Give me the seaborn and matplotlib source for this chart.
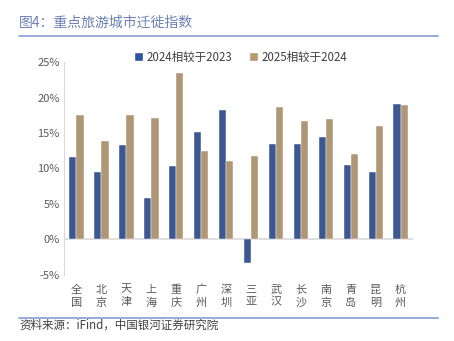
import matplotlib
matplotlib.use("Agg")
import matplotlib.pyplot as plt
import seaborn as sns
import pandas as pd
from matplotlib.patches import Patch
from matplotlib.lines import Line2D

cities = ["全国", "北京", "天津", "上海", "重庆", "广州", "深圳", "三亚",
          "武汉", "长沙", "南京", "青岛", "昆明", "杭州"]
series_2024 = [11.6, 9.5, 13.3, 5.8, 10.3, 15.2, 18.3, -3.4,
               13.5, 13.4, 14.4, 10.5, 9.5, 19.1]
series_2025 = [17.5, 13.9, 17.5, 17.1, 23.4, 12.4, 11.0, 11.8,
               18.6, 16.7, 17.0, 12.1, 16.0, 19.0]
series_names = ["2024相较于2023", "2025相较于2024"]
y_ticks = [-5, 0, 5, 10, 15, 20, 25]

sns.set_theme(style="white")
plt.rcParams['font.family'] = ['Noto Sans CJK SC', 'DejaVu Sans']

df = pd.DataFrame({
    "city": cities * 2,
    "value": series_2024 + series_2025,
    "series": [series_names[0]] * len(cities) + [series_names[1]] * len(cities),
})

blue = "#2D53A2"
gold = "#B9986C"

fig = plt.figure(figsize=(4.54, 3.41), dpi=100)
ax = fig.add_axes([0.141, 0.194, 0.769, 0.624])
sns.barplot(data=df, x="city", y="value", hue="series", hue_order=series_names,
            palette=[blue, gold], width=0.58, ax=ax, legend=False,
            edgecolor="white", linewidth=0.3)

ax.set_ylim(-5, 25)
ax.set_xlim(-0.5, len(cities) - 0.5)
ax.set_yticks(y_ticks)
ax.set_yticklabels([f"{t}%" for t in y_ticks], fontsize=8, color="#595959")
ax.set_xticks(range(len(cities)))
ax.set_xticklabels(["\n".join(c) for c in cities], fontsize=8, color="#595959",
                   linespacing=1.35)
ax.tick_params(axis="both", length=0, pad=3)
ax.tick_params(axis="x", pad=7)
ax.set_xlabel("")
ax.set_ylabel("")
for s in ["top", "right", "bottom"]:
    ax.spines[s].set_visible(False)
ax.spines["left"].set_color("#D9D9D9")
ax.spines["left"].set_linewidth(0.8)
ax.axhline(0, color="#D9D9D9", linewidth=1.2, zorder=0)

handles = [Patch(facecolor=blue), Patch(facecolor=gold)]
fig.legend(handles, series_names, loc="center", bbox_to_anchor=(0.53, 0.833),
           ncol=2, frameon=False, fontsize=8.3, handlelength=0.8, handleheight=0.8,
           handletextpad=0.3, columnspacing=1.4, labelcolor="#404040")

fig.text(0.042, 0.932, "图4：重点旅游城市迁徙指数", fontsize=10, color="#6B80B5",
         ha="left", va="center")
fig.add_artist(Line2D([0.042, 0.965], [0.895, 0.895], color="#8FA5D2", linewidth=1.3))
fig.add_artist(Line2D([0.042, 0.965], [0.068, 0.068], color="#8FA5D2", linewidth=1.3))
fig.text(0.042, 0.045, "资料来源：iFind，中国银河证券研究院", fontsize=8.3, color="#404040",
         ha="left", va="center", style="italic")

fig.savefig("out.png", dpi=100)
